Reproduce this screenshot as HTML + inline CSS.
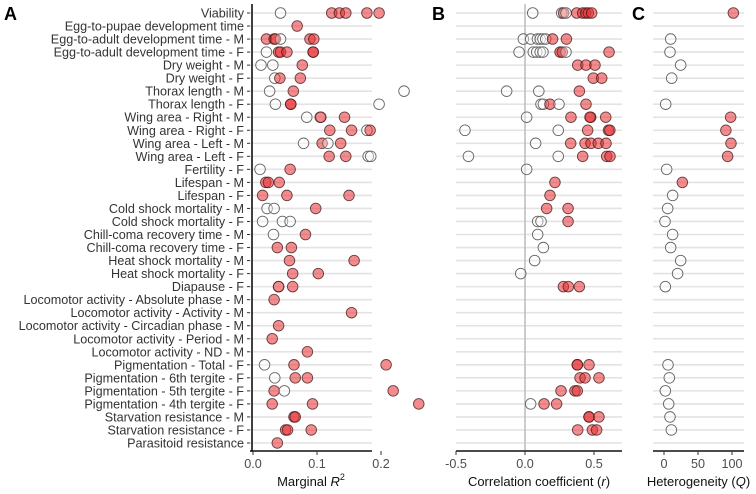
<!DOCTYPE html>
<html><head><meta charset="utf-8"><style>
html,body{margin:0;padding:0;background:#fff}
svg{display:block;font-family:"Liberation Sans",sans-serif}
</style></head><body>
<svg id="chart" width="756" height="494"></svg>
<script>
const traits=["Viability","Egg-to-pupae development time","Egg-to-adult development time - M","Egg-to-adult development time - F","Dry weight - M","Dry weight - F","Thorax length - M","Thorax length - F","Wing area - Right - M","Wing area - Right - F","Wing area - Left - M","Wing area - Left - F","Fertility - F","Lifespan - M","Lifespan - F","Cold shock mortality - M","Cold shock mortality - F","Chill-coma recovery time - M","Chill-coma recovery time - F","Heat shock mortality - M","Heat shock mortality - F","Diapause - F","Locomotor activity - Absolute phase - M","Locomotor activity - Activity - M","Locomotor activity - Circadian phase - M","Locomotor activity - Period - M","Locomotor activity - ND - M","Pigmentation - Total - F","Pigmentation - 6th tergite - F","Pigmentation - 5th tergite - F","Pigmentation - 4th tergite - F","Starvation resistance - M","Starvation resistance - F","Parasitoid resistance"];
// Panel A: marginal R2
const aRows=[0,0,0,0,0,0, 1, 2,2,2,2,2,2, 3,3,3,3,3,3, 4,4,4, 5,5,5, 6,6,6, 7,7,7,7, 8,8,8,8, 9,9,9,9, 10,10,10,10, 11,11,11,11, 12,12, 13,13,13, 14,14,14, 15,15,15, 16,16,16, 17,17, 18,18, 19,19, 20,20, 21,21,21, 22, 23, 24, 25, 26, 27,27,27, 28,28,28, 29,29,29, 30,30,30, 31,31, 32,32,32, 33];
const aVals=[0.043,0.123,0.135,0.145,0.178,0.197, 0.069, 0.021,0.033,0.035,0.043,0.089,0.095, 0.021,0.040,0.043,0.053,0.094,0.094, 0.0125,0.031,0.077, 0.034,0.042,0.074, 0.026,0.063,0.236, 0.035,0.059,0.059,0.197, 0.084,0.105,0.106,0.143, 0.120,0.154,0.178,0.183, 0.079,0.108,0.117,0.137, 0.119,0.145,0.180,0.184, 0.011,0.058, 0.020,0.024,0.041, 0.015,0.053,0.150, 0.022,0.033,0.098, 0.015,0.046,0.058, 0.032,0.082, 0.038,0.060, 0.057,0.158, 0.062,0.102, 0.040,0.040,0.062, 0.033, 0.154, 0.040, 0.030, 0.085, 0.018,0.064,0.208, 0.034,0.066,0.085, 0.033,0.049,0.219, 0.030,0.093,0.259, 0.064,0.066, 0.051,0.054,0.091, 0.038];
const aSig=[0,1,1,1,1,1, 1, 1,1,1,0,1,1, 0,1,1,1,1,1, 0,0,1, 0,1,1, 0,1,0, 0,1,1,0, 0,0,1,1, 1,1,0,1, 0,1,0,1, 1,1,0,0, 0,1, 1,1,1, 1,1,1, 0,0,1, 0,0,0, 0,1, 1,1, 1,1, 1,1, 0,1,1, 1, 1, 1, 1, 1, 0,1,1, 0,1,1, 1,0,1, 1,1,1, 1,1, 1,1,1, 1];
// Panel B: correlation coefficient r
const bRows=[0,0,0,0,0,0,0,0,0, 2,2,2,2,2,2,2,2, 3,3,3,3,3,3,3,3,3, 4,4,4, 5,5, 6,6,6, 7,7,7,7,7, 8,8,8,8,8, 9,9,9,9,9, 10,10,10,10,10,10, 11,11,11,11,11, 12, 13, 14, 15,15, 16,16,16, 17, 18, 19, 20, 21,21,21, 27,27,27, 28,28,28, 29,29,29, 30,30,30, 31,31,31, 32,32,32];
const bVals=[0.056,0.266,0.28,0.297,0.375,0.418,0.44,0.459,0.483, -0.012,0.041,0.09,0.11,0.13,0.15,0.20,0.30, -0.043,0.06,0.085,0.11,0.13,0.254,0.27,0.297,0.609, 0.382,0.442,0.507, 0.495,0.556, -0.133,0.10,0.394, 0.116,0.133,0.181,0.246,0.442, 0.012,0.333,0.476,0.471,0.585, -0.435,0.241,0.454,0.605,0.615, 0.077,0.331,0.435,0.478,0.531,0.587, -0.41,0.241,0.418,0.592,0.616, 0.012, 0.217, 0.181, 0.157,0.312, 0.092,0.116,0.312, 0.092, 0.133, 0.070, -0.031, 0.278,0.314,0.394, 0.379,0.379,0.464, 0.399,0.435,0.536, 0.261,0.362,0.379, 0.041,0.138,0.229, 0.464,0.464,0.536, 0.382,0.488,0.519];
const bSig=[0,0,1,0,1,1,1,1,1, 0,0,0,0,0,0,1,1, 0,0,0,0,0,1,1,0,1, 1,1,1, 1,1, 0,0,1, 0,0,1,0,1, 0,1,1,1,1, 0,0,1,1,1, 0,1,1,1,1,1, 0,0,1,1,1, 0, 1, 1, 1,1, 0,0,1, 0, 0, 0, 0, 1,1,1, 1,1,1, 1,1,1, 1,1,1, 0,1,1, 1,1,1, 1,1,1];
// Panel C: heterogeneity Q
const cRows=[0,2,3,4,5,7,8,9,10,11,12,13,14,15,16,17,18,19,20,21,27,28,29,30,31,32];
const cVals=[102,9.8,8.8,24.5,11.3,2.5,98,91,98.5,93.6,3.9,27,12.7,5.4,1.5,12.7,9.8,24.5,20,2,5.9,7.8,2,6.9,8.8,10.8];
const cSig=[1,0,0,0,0,0,1,1,1,1,0,1,0,0,0,0,0,0,0,0,0,0,0,0,0,0];
const aTicks=[0,0.1,0.2], bTicks=[-0.5,0,0.5], cTicks=[0,50,100];

const NS="http://www.w3.org/2000/svg";
const svg=document.getElementById('chart');
function mk(tag,attrs,parent){const e=document.createElementNS(NS,tag);for(const k in attrs)e.setAttribute(k,attrs[k]);(parent||svg).appendChild(e);return e;}
const rowY=i=>13+i*13.03;
const axisY=451;
const xA=v=>253+v*640, xB=v=>525+v*138, xC=v=>664+v*0.68;
const panels=[
 {key:'a',x0:250,x1:372,sx:xA,rows:aRows,vals:aVals,sig:aSig,ticks:aTicks,fmt:v=>v.toFixed(1),title:'Marginal ',letter:'A',lx:4},
 {key:'b',x0:456,x1:622,sx:xB,rows:bRows,vals:bVals,sig:bSig,ticks:bTicks,fmt:v=>v.toFixed(1),title:'Correlation coefficient (',letter:'B',lx:432},
 {key:'c',x0:653,x1:744,sx:xC,rows:cRows,vals:cVals,sig:cSig,ticks:cTicks,fmt:v=>String(v),title:'Heterogeneity (',letter:'C',lx:632}
];
// y labels
traits.forEach((t,i)=>{
 const tx=mk('text',{x:244,y:rowY(i)+4.5,'text-anchor':'end','font-size':12.6,fill:'#333'});
 tx.textContent=t;
 
 
 const tk=mk('line',{x1:247,x2:252,y1:rowY(i),y2:rowY(i),stroke:'#333','stroke-width':1});
 
 
});
panels.forEach(p=>{
 const g=mk('g',{});
 
 
 traits.forEach((t,i)=>{
  const gl=mk('line',{x1:p.x0,x2:p.x1,y1:rowY(i),y2:rowY(i),stroke:'#e3e3e3','stroke-width':1.6},g);
  
  
 });
 if(p.key==='b'){
  const zl=mk('line',{x1:xB(0),x2:xB(0),y1:4,y2:axisY,stroke:'#bbb','stroke-width':1.5},g);
  
  
 }
 const ax=mk('line',{x1:p.x0,x2:p.x1,y1:axisY,y2:axisY,stroke:'#111','stroke-width':1.6},g);
 
 
 p.ticks.forEach(v=>{
  const x=p.sx(v);
  const tk=mk('line',{x1:x,x2:x,y1:axisY,y2:axisY+4,stroke:'#333','stroke-width':1},g);
  
  
  const tl=mk('text',{x:x,y:axisY+17,'text-anchor':'middle','font-size':12.6,fill:'#4d4d4d'},g);
  tl.textContent=p.fmt(v).replace('-','-');
  
  
 });
 const tt=mk('text',{x:(p.x0+p.x1)/2,y:486,'text-anchor':'middle','font-size':13,fill:'#111'},g);
 
 
 if(p.key==='a'){tt.innerHTML='Marginal <tspan font-style="italic">R</tspan><tspan font-size="9" dy="-6">2</tspan>';}
 else if(p.key==='b'){tt.innerHTML='Correlation coefficient (<tspan font-style="italic">r</tspan>)';}
 else {tt.innerHTML='Heterogeneity (<tspan font-style="italic">Q</tspan>)';}
 const lt=mk('text',{x:p.lx,y:20,'font-size':18,'font-weight':'bold',fill:'#000'},g);
 lt.textContent=p.letter;
 
 
 p.rows.forEach((r,j)=>{
  const s=p.sig[j];
  const c=mk('circle',{cx:p.sx(p.vals[j]),cy:rowY(r),r:5.3,
   fill:s?'rgba(232,45,50,0.55)':'rgba(255,255,255,0.35)',
   stroke:s?'rgba(60,20,20,0.75)':'#666','stroke-width':0.9},g);
  
  
 });
});
const yax=mk('line',{x1:252,x2:252,y1:4,y2:axisY+0.8,stroke:'#111','stroke-width':1.6});


</script>
</body></html>
